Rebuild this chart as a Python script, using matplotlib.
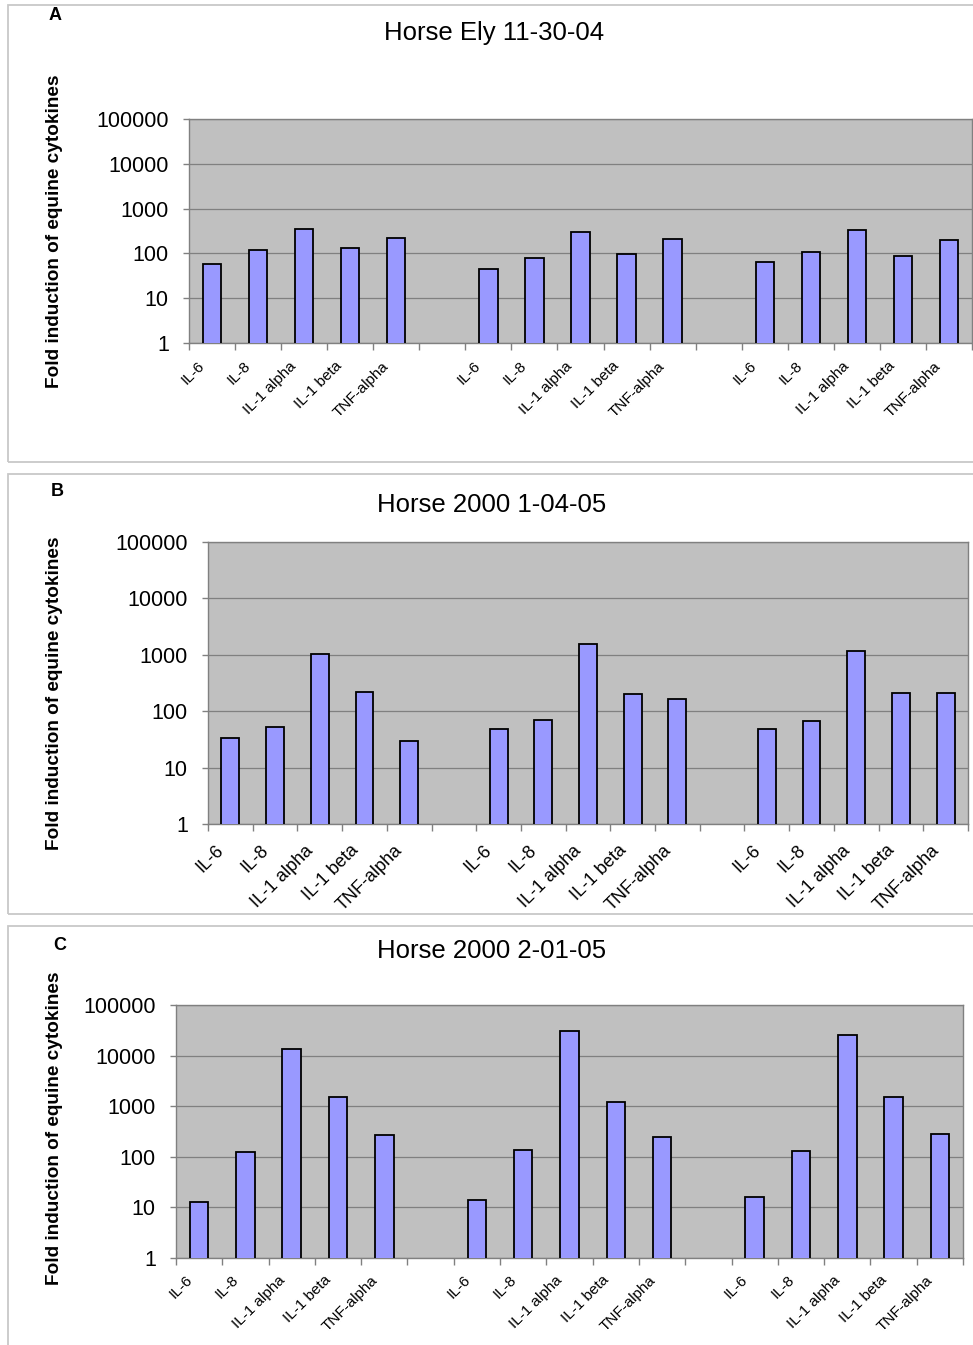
import matplotlib
matplotlib.use("Agg")
import matplotlib.pyplot as plt
from matplotlib.patches import Rectangle
from matplotlib.transforms import blended_transform_factory, ScaledTranslation
import numpy as np

plt.rcParams['font.family'] = ['Liberation Sans', 'DejaVu Sans']

# ---------------- data ----------------
cytokines = ["IL-6", "IL-8", "IL-1 alpha", "IL-1 beta", "TNF-alpha"]
n_groups = 3

titles = ["Horse Ely 11-30-04", "Horse 2000 1-04-05", "Horse 2000 2-01-05"]
panel_letters = ["A", "B", "C"]
ylabel = "Fold induction of equine cytokines"
ytick_vals = [1, 10, 100, 1000, 10000, 100000]
ytick_labels = ["1", "10", "100", "1000", "10000", "100000"]

# values per panel: group1, group2, group3 (each IL-6, IL-8, IL-1a, IL-1b, TNF-a)
values_A = [57, 120, 355, 130, 224,
            44, 78, 303, 98, 210,
            64, 106, 337, 88, 198]
values_B = [33, 53, 1020, 217, 30,
            48, 70, 1550, 200, 163,
            48, 67, 1150, 213, 208]
values_C = [12.5, 122, 13400, 1540, 265,
            13.9, 135, 31000, 1200, 250,
            16, 128, 25300, 1540, 277]
panel_values = [values_A, values_B, values_C]

# ---------------- layout (pixels) ----------------
W, H = 973, 1345
fig = plt.figure(figsize=(W / 100, H / 100), dpi=100)
fig.patch.set_facecolor("white")

def frac_rect(l, t, r, b):
    return [l / W, 1 - b / H, (r - l) / W, (b - t) / H]

panel_boxes = [(8, 5, 990, 462), (8, 474, 990, 914), (8, 926, 990, 1360)]
axes_boxes = [(189, 119, 972, 343), (208, 542, 968, 824), (176, 1005, 963, 1258)]
title_pos = [(494, 33), (492, 505), (492, 951)]
letter_pos = [(55, 16), (57, 492), (60, 945)]
ylabel_pos = [(55, 231), (55, 693), (55, 1128)]
xlab_size = [11, 13, 11]
xlab_off = [(-15, -16), (-15, -18), (-14, -15)]

bar_color = "#9999FF"
plot_bg = "#C0C0C0"
gray = "#808080"

# category positions: 5 per group, one empty slot between groups
slots = []
labels = []
for g in range(n_groups):
    for i, c in enumerate(cytokines):
        slots.append(g * (len(cytokines) + 1) + i)
        labels.append(c)
n_slots = n_groups * (len(cytokines) + 1) - 1

for p in range(3):
    l, t, r, b = panel_boxes[p]
    fig.add_artist(Rectangle((l / W, 1 - b / H), (r - l) / W, (b - t) / H,
                             transform=fig.transFigure, fill=False,
                             edgecolor="#C8C8C8", lw=1.3))
    ax = fig.add_axes(frac_rect(*axes_boxes[p]))
    ax.set_facecolor(plot_bg)
    ax.set_yscale("log")
    ax.bar(slots, panel_values[p], width=0.4, color=bar_color,
           edgecolor="black", linewidth=1.3, zorder=3)
    ax.set_xlim(-0.5, n_slots - 0.5)
    ax.set_ylim(1, 100000)
    ax.set_yticks(ytick_vals)
    ax.set_yticklabels(ytick_labels)
    ax.yaxis.set_minor_locator(matplotlib.ticker.NullLocator())
    ax.tick_params(axis="y", which="major", length=4.5, width=1, color=gray,
                   labelsize=15.5, pad=10, direction="out")
    ax.grid(axis="y", which="major", color=gray, lw=0.9, zorder=1)
    ax.set_axisbelow(True)
    # tick marks at category boundaries
    ax.set_xticks(np.arange(-0.5, n_slots, 1.0))
    ax.set_xticklabels([])
    ax.tick_params(axis="x", which="major", length=5, width=1, color=gray,
                   direction="out")
    for s in ax.spines.values():
        s.set_color(gray)
        s.set_linewidth(1.0)
    # rotated category labels
    dx, dy = xlab_off[p]
    trans = blended_transform_factory(ax.transData, ax.transAxes) + \
        ScaledTranslation(dx / 100, dy / 100, fig.dpi_scale_trans)
    for xs, lab in zip(slots, labels):
        ax.text(xs, 0, lab, transform=trans, rotation=45, ha="right",
                va="top", rotation_mode="anchor", fontsize=xlab_size[p],
                color="black")
    tx, ty = title_pos[p]
    fig.text(tx / W, 1 - ty / H, titles[p], ha="center", va="center",
             fontsize=18.5, color="black")
    lx, ly = letter_pos[p]
    fig.text(lx / W, 1 - ly / H, panel_letters[p], ha="center", va="center",
             fontsize=13, fontweight="bold")
    yx, yy = ylabel_pos[p]
    fig.text(yx / W, 1 - yy / H, ylabel, rotation=90, ha="center",
             va="center", fontsize=13.7, fontweight="bold")

fig.savefig("out.png", dpi=100, facecolor="white")
